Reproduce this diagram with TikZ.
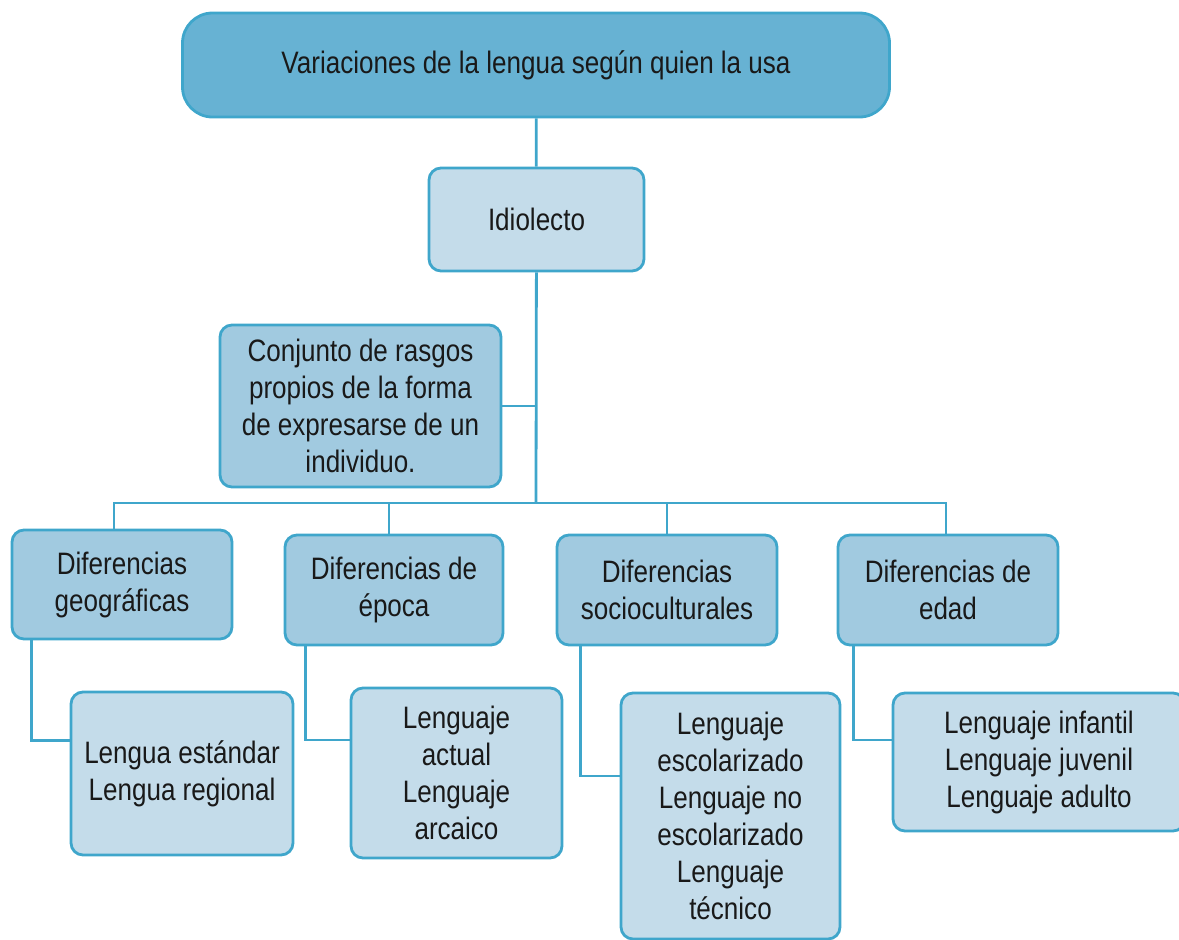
\documentclass[tikz,border=0pt]{standalone}
\usepackage{fontspec}
\setmainfont[FakeStretch=0.84]{Liberation Sans}
\usepackage{tikz}
\usepackage{xcolor}
\usetikzlibrary{positioning}

\definecolor{topfill}{HTML}{67B2D3}
\definecolor{midfill}{HTML}{A1CAE0}
\definecolor{lightfill}{HTML}{C4DCEA}
\definecolor{edge}{HTML}{3FA6CB}

\begin{document}
\begin{tikzpicture}[x=0.5pt, y=-0.5pt,
        box/.style={draw=edge, line width=1.4pt, rounded corners=6pt, align=center,
            font=\fontsize{15.5}{18.5}\selectfont, text=black!90, inner sep=2pt},
        link/.style={draw=edge, line width=1.4pt}]
        \useasboundingbox (0, 0) rectangle (1179, 939);
        \clip (0, 0) rectangle (1179, 939);

        \node[box, fill=topfill, rounded corners=15pt, minimum width=353.5pt, minimum height=52pt] (title) at (536, 65) {Variaciones de la lengua según quien la usa};
        \node[box, fill=lightfill, minimum width=107.5pt, minimum height=51.5pt] (idio) at (536.5, 219.5) {Idiolecto};
        \node[box, fill=midfill, minimum width=140.5pt, minimum height=81pt] (conj) at (360.5, 406) {Conjunto de rasgos\\propios de la forma\\de expresarse de un\\individuo.};

        \node[box, fill=midfill, minimum width=110pt, minimum height=54.5pt] (geo) at (122, 584.5) {Diferencias\\geográficas};
        \node[box, fill=midfill, minimum width=109pt, minimum height=55pt] (epoca) at (394, 590) {Diferencias de\\época};
        \node[box, fill=midfill, minimum width=110pt, minimum height=55pt] (socio) at (667, 590) {Diferencias\\socioculturales};
        \node[box, fill=midfill, minimum width=110pt, minimum height=55pt] (edad) at (948, 590) {Diferencias de\\edad};

        \node[box, fill=lightfill, minimum width=111pt, minimum height=81.5pt] (lgeo) at (182, 773.5) {Lengua estándar\\Lengua regional};
        \node[box, fill=lightfill, minimum width=105.5pt, minimum height=85pt] (lepoca) at (456.5, 773) {Lenguaje\\actual\\Lenguaje\\arcaico};
        \node[box, fill=lightfill, minimum width=109.5pt, minimum height=123pt] (lsocio) at (730.5, 816) {Lenguaje\\escolarizado\\Lenguaje no\\escolarizado\\Lenguaje\\técnico};
        \node[box, fill=lightfill, minimum width=146pt, minimum height=69pt] (ledad) at (1039, 762) {Lenguaje infantil\\Lenguaje juvenil\\Lenguaje adulto};

        \coordinate (bus) at (536, 503);

        % main trunk
        \draw[link] (title) -- (idio);
        \draw[link] (idio) -- (bus);
        \draw[link] (conj.east) -- (conj.east -| bus);

        % branches
        \draw[link] ([xshift=-4pt]geo.north) |- (bus);
        \draw[link] ([xshift=-2.5pt]epoca.north) |- (bus);
        \draw[link] (socio.north) |- (bus);
        \draw[link] ([xshift=-1pt]edad.north) |- (bus);

        % leaves
        \draw[link] ([xshift=10.5pt]geo.south west) |- ([yshift=16.5pt]lgeo.west);
        \draw[link] ([xshift=11pt]epoca.south west) |- ([yshift=16.5pt]lepoca.west);
        \draw[link] ([xshift=12.5pt]socio.south west) |- ([yshift=20pt]lsocio.west);
        \draw[link] ([xshift=8.5pt]edad.south west) |- ([yshift=11pt]ledad.west);
    \end{tikzpicture}
\end{document}
